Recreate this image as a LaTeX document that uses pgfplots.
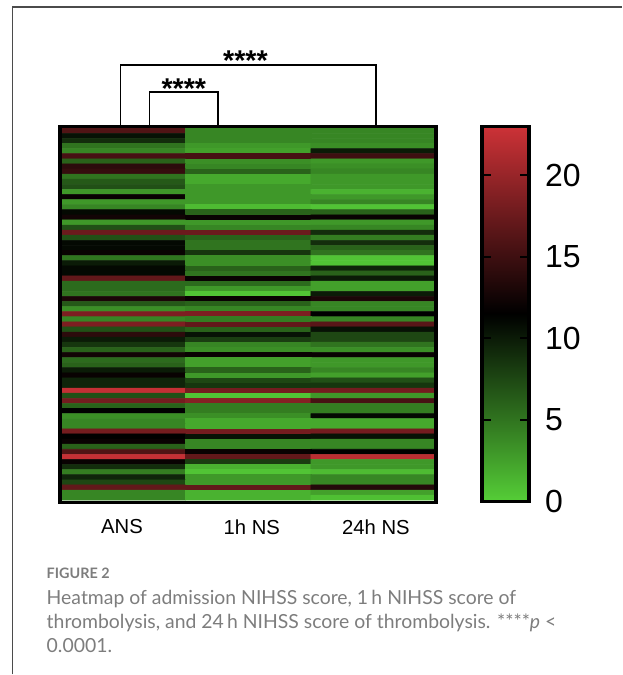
\documentclass[border=0pt]{standalone}
\usepackage{fontspec}
\usepackage{pgfplots}
\pgfplotsset{compat=1.18}
\setmainfont{Liberation Sans}
\newfontfamily\capfont{Lato}
\definecolor{capgrey}{RGB}{125,125,125}
\definecolor{framegrey}{RGB}{75,75,75}
\pgfplotsset{
  colormap={gbr}{rgb255=(85,205,55) rgb255=(0,0,0) rgb255=(205,50,55)},
  scalebox/.style={
    at={(361.875pt,-94.875pt)}, anchor=north west,
    scale only axis, width=35.25pt, height=281.4pt,
    xmin=0, xmax=1, ymin=0, ymax=23,
    axis on top,
    axis line style={line width=2.6pt},
    xtick=\empty,
    ytick={0,5,10,15,20},
    tick align=inside,
    major tick length=6.5pt,
    major tick style={line width=1.5pt,black},
  },
}
\begin{document}
% all picture coordinates are reference pixels, origin top left
\begin{tikzpicture}[x=0.75pt,y=-0.75pt]
\path (0,0) rectangle (622,675);
\draw[framegrey,line width=0.8pt] (12.5,675) -- (12.5,7) -- (622,7);
\begin{axis}[
    at={(45pt,-94.875pt)}, anchor=north west,
    scale only axis, width=282.4pt, height=282.15pt,
    xmin=-0.5, xmax=2.5, ymin=-0.853, ymax=72.91,
    y dir=reverse,
    axis on top,
    axis line style={line width=2.6pt},
    ytick=\empty,
    xtick={-0.005,1.03,2.02}, xticklabels={ANS,1h NS,24h NS},
    xticklabel pos=lower,
    x tick label style={font=\fontsize{15.2pt}{17pt}\selectfont, yshift=-9.5pt},
    major tick length=0pt,
    colormap name=gbr,
    point meta min=0, point meta max=23,
]
\addplot[matrix plot*, mesh/cols=3, point meta=explicit]
  table[row sep=\\, x=x, y=y, meta=v] {
x y v\\
0 0 16\\ 1 0 4\\ 2 0 4\\
0 1 10.5\\ 1 1 4\\ 2 1 4\\
0 2 9\\ 1 2 4\\ 2 2 4\\
0 3 5\\ 1 3 3\\ 2 3 3.5\\
0 4 4\\ 1 4 2.5\\ 2 4 10\\
0 5 15.5\\ 1 5 15.5\\ 2 5 15\\
0 6 6\\ 1 6 3.5\\ 2 6 3\\
0 7 14\\ 1 7 4\\ 2 7 3.5\\
0 8 14.5\\ 1 8 6\\ 2 8 4\\
0 9 5\\ 1 9 2\\ 2 9 3\\
0 10 6.5\\ 1 10 2\\ 2 10 3\\
0 11 7\\ 1 11 3\\ 2 11 3\\
0 12 3\\ 1 12 3\\ 2 12 1.5\\
0 13 12\\ 1 13 3\\ 2 13 3\\
0 14 3\\ 1 14 3\\ 2 14 4\\
0 15 4\\ 1 15 1\\ 2 15 0.5\\
0 16 11\\ 1 16 6\\ 2 16 6\\
0 17 12.5\\ 1 17 12\\ 2 17 12\\
0 18 3\\ 1 18 3\\ 2 18 3\\
0 19 7\\ 1 19 4\\ 2 19 4\\
0 20 17.5\\ 1 20 17.5\\ 2 20 9\\
0 21 7\\ 1 21 6\\ 2 21 4.5\\
0 22 11\\ 1 22 5\\ 2 22 9\\
0 23 11\\ 1 23 5\\ 2 23 6\\
0 24 12\\ 1 24 8.5\\ 2 24 5\\
0 25 5\\ 1 25 3.5\\ 2 25 0.5\\
0 26 10\\ 1 26 3.5\\ 2 26 0.5\\
0 27 11\\ 1 27 6\\ 2 27 9.5\\
0 28 11\\ 1 28 5\\ 2 28 6\\
0 29 17\\ 1 29 12\\ 2 29 10\\
0 30 5.5\\ 1 30 5.5\\ 2 30 2.5\\
0 31 5.5\\ 1 31 3\\ 2 31 2.5\\
0 32 5\\ 1 32 0.5\\ 2 32 10\\
0 33 13\\ 1 33 12\\ 2 33 13\\
0 34 6.5\\ 1 34 6\\ 2 34 4\\
0 35 3.5\\ 1 35 4\\ 2 35 4\\
0 36 18.5\\ 1 36 18.5\\ 2 36 11.5\\
0 37 4\\ 1 37 4.5\\ 2 37 4\\
0 38 18.5\\ 1 38 17\\ 2 38 16.5\\
0 39 7\\ 1 39 6\\ 2 39 10.5\\
0 40 14\\ 1 40 10.5\\ 2 40 7.5\\
0 41 10\\ 1 41 8\\ 2 41 7.5\\
0 42 8.5\\ 1 42 4\\ 2 42 5\\
0 43 6\\ 1 43 3.5\\ 2 43 3.5\\
0 44 12.5\\ 1 44 12\\ 2 44 12\\
0 45 5.5\\ 1 45 2.5\\ 2 45 3\\
0 46 6\\ 1 46 2.5\\ 2 46 3\\
0 47 10\\ 1 47 6\\ 2 47 4\\
0 48 12\\ 1 48 3\\ 2 48 2.5\\
0 49 9.5\\ 1 49 7.5\\ 2 49 7\\
0 50 9.5\\ 1 50 8.5\\ 2 50 8.5\\
0 51 22.5\\ 1 51 18\\ 2 51 18\\
0 52 7\\ 1 52 0.5\\ 2 52 3\\
0 53 18\\ 1 53 19\\ 2 53 15.5\\
0 54 6\\ 1 54 4.5\\ 2 54 4.5\\
0 55 11.5\\ 1 55 4.5\\ 2 55 4.5\\
0 56 3.5\\ 1 56 3.5\\ 2 56 11\\
0 57 4\\ 1 57 2\\ 2 57 2\\
0 58 4\\ 1 58 2\\ 2 58 2\\
0 59 18\\ 1 59 18\\ 2 59 18\\
0 60 11.5\\ 1 60 10.5\\ 2 60 10.5\\
0 61 12\\ 1 61 4\\ 2 61 4\\
0 62 6\\ 1 62 4\\ 2 62 4\\
0 63 16\\ 1 63 12\\ 2 63 11.5\\
0 64 22.5\\ 1 64 17\\ 2 64 22\\
0 65 12\\ 1 65 8\\ 2 65 3\\
0 66 9\\ 1 66 1.5\\ 2 66 3\\
0 67 4.5\\ 1 67 0.5\\ 2 67 1\\
0 68 9.5\\ 1 68 3\\ 2 68 4\\
0 69 7.5\\ 1 69 3\\ 2 69 4\\
0 70 17\\ 1 70 17\\ 2 70 13.5\\
0 71 4\\ 1 71 1.5\\ 2 71 2.5\\
0 72 4\\ 1 72 1.5\\ 2 72 0.8\\
};
\end{axis}
% colour scale: gradient, then a second box for right ticks, labels and the left tick stubs
\begin{axis}[
    scalebox,
    ytick=\empty,
    colormap name=gbr,
    point meta min=0, point meta max=23,
]
\addplot[surf, shader=interp, mesh/cols=2, point meta=explicit]
  table[row sep=\\, x=x, y=y, meta=v] {
x y v\\
0 0 0\\ 1 0 0\\
0 23 23\\ 1 23 23\\
};
\end{axis}
\begin{axis}[
    scalebox,
    ytick pos=right,
    /pgf/number format/assume math mode=true,
    yticklabel style={font=\fontsize{24pt}{26pt}\selectfont, anchor=west, xshift=8.5pt},
]
\addplot[xcomb, black, line width=1.5pt, mark=none] coordinates {(0.18,5) (0.18,10) (0.18,15) (0.18,20)};
\end{axis}
% significance brackets
\draw[line width=1.3pt] (120.7,125) -- (120.7,65.3) -- (376.3,65.3) -- (376.3,125);
\draw[line width=1.3pt] (149.7,125) -- (149.7,92) -- (218,92) -- (218,125);
\node[anchor=base,inner sep=0pt,font=\bfseries\fontsize{21.5pt}{22pt}\selectfont] at (245.6,71) {****};
\node[anchor=base,inner sep=0pt,font=\bfseries\fontsize{21.5pt}{22pt}\selectfont] at (184,98.5) {****};
% caption
\node[anchor=base west,inner sep=0pt,text=capgrey,font=\capfont\bfseries\fontsize{10.8pt}{12pt}\selectfont] at (46.5,578.5) {FIGURE 2};
\node[anchor=base west,inner sep=0pt,text=capgrey,font=\capfont\fontsize{14.55pt}{16pt}\selectfont] at (46.5,605) {Heatmap of admission NIHSS score, 1\,h NIHSS score of};
\node[anchor=base west,inner sep=0pt,text=capgrey,font=\capfont\fontsize{14.55pt}{16pt}\selectfont] at (46.5,629) {thrombolysis, and 24\,h NIHSS score of thrombolysis. ****\textit{p} <};
\node[anchor=base west,inner sep=0pt,text=capgrey,font=\capfont\fontsize{14.55pt}{16pt}\selectfont] at (46.5,653) {0.0001.};
\end{tikzpicture}
\end{document}
